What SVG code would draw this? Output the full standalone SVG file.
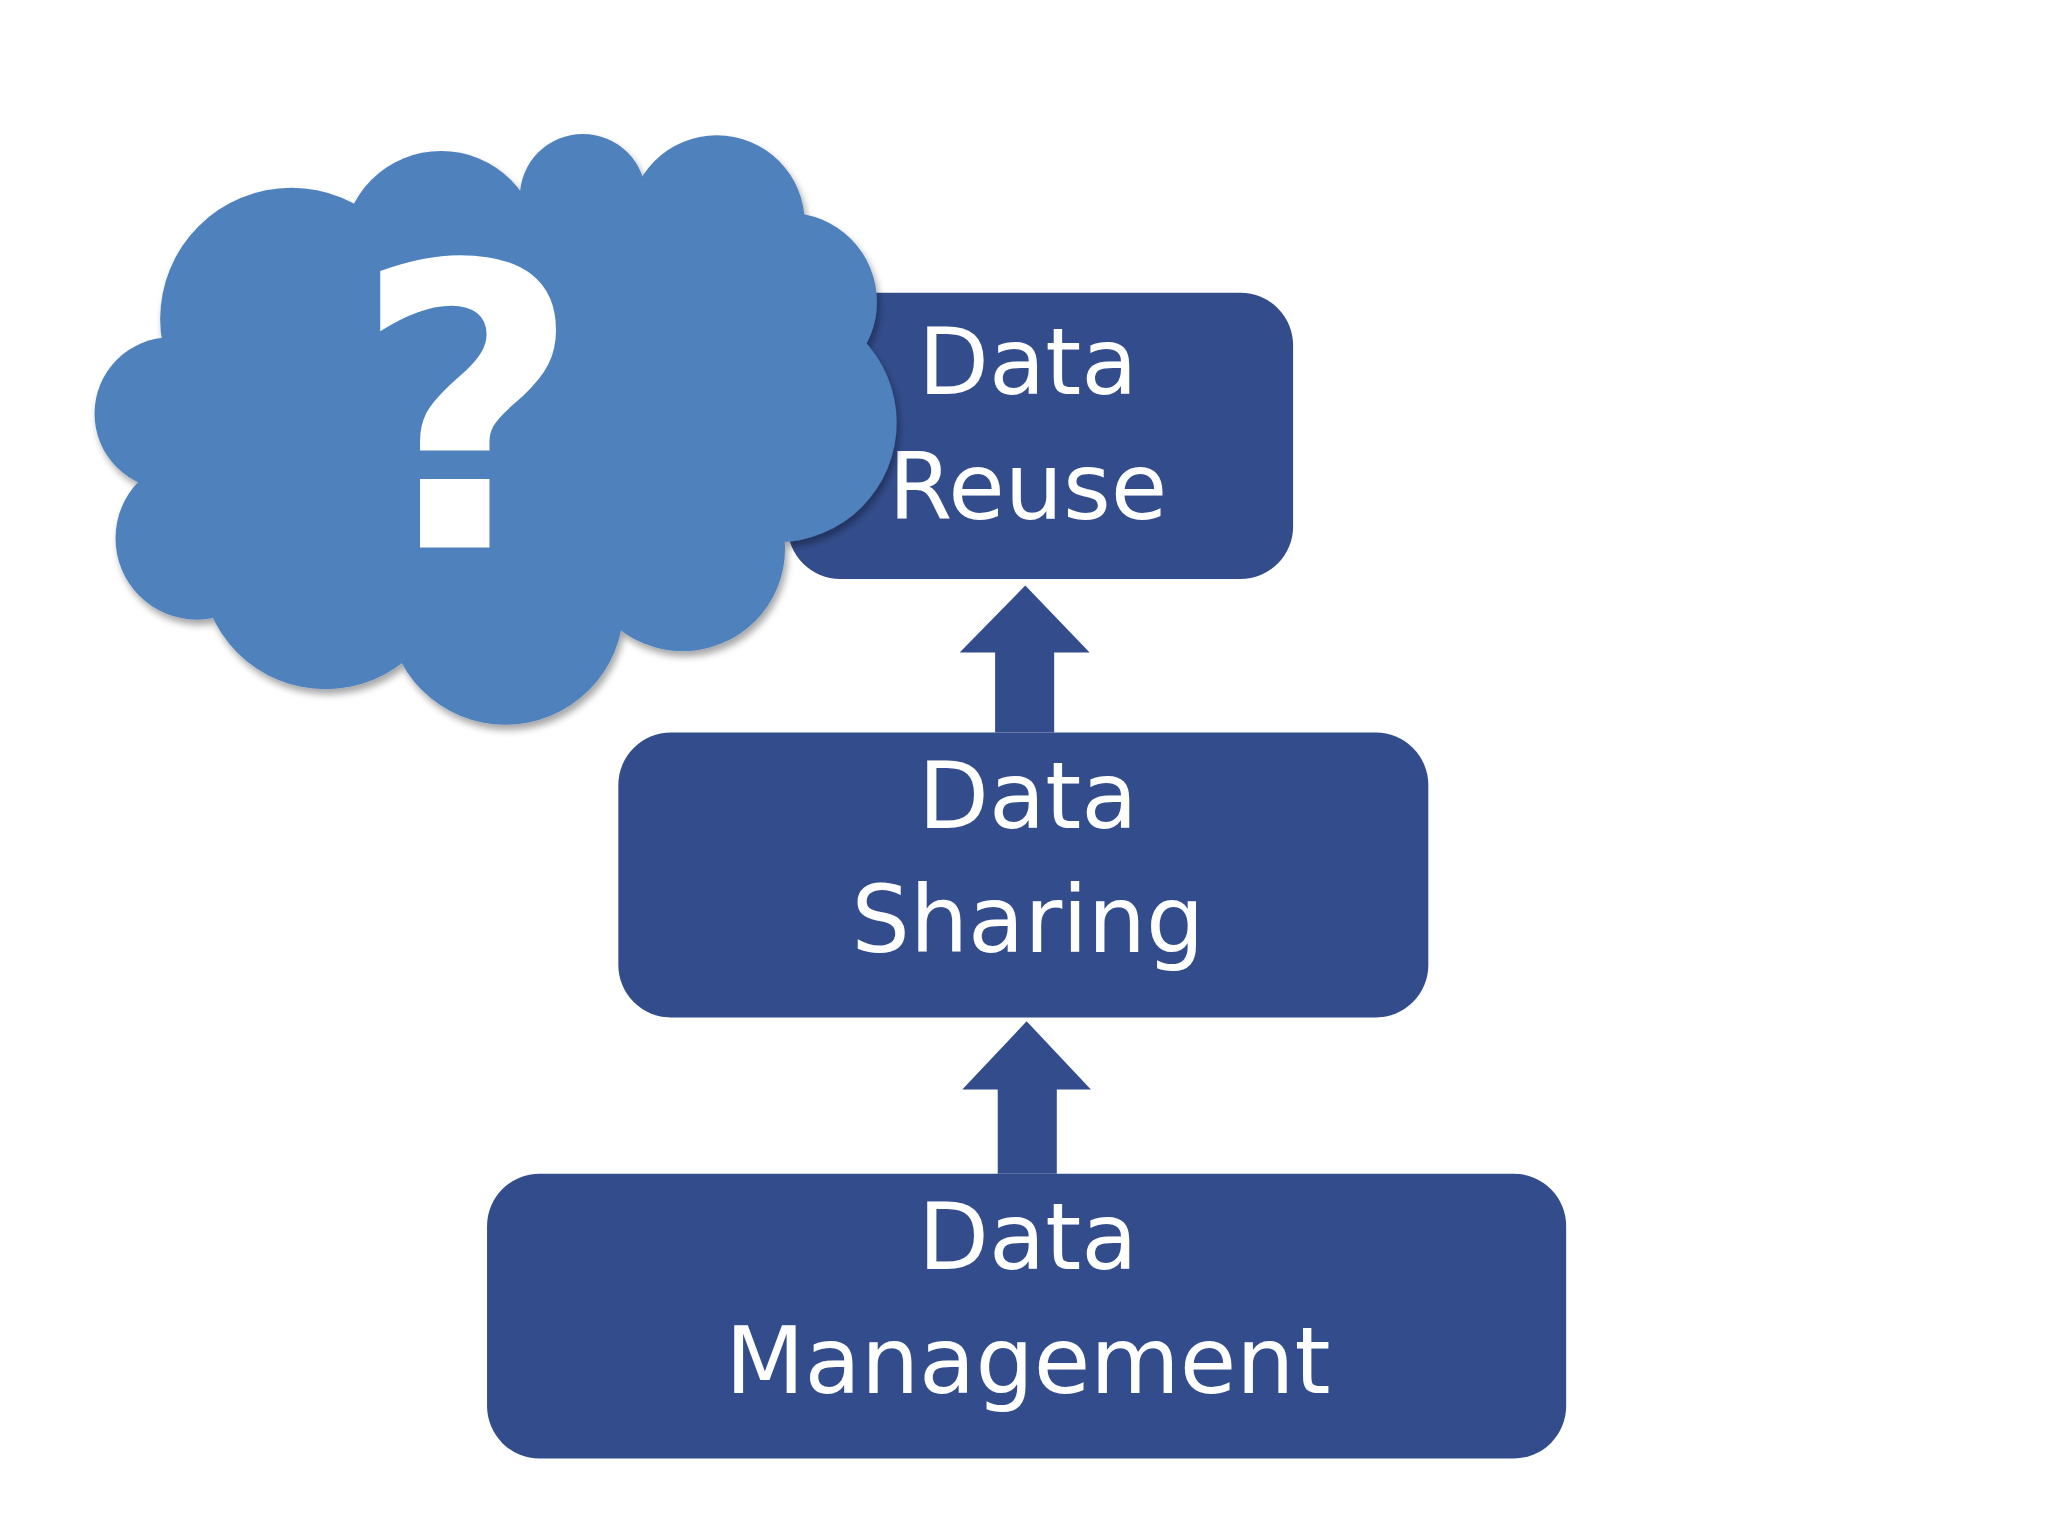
<svg xmlns="http://www.w3.org/2000/svg" width="2048" height="1536" viewBox="0 0 2048 1536">
<defs>
<style>
.box{fill:#334d8c}
.t{fill:#fff;font-family:"DejaVu Sans",sans-serif;font-size:70px;text-anchor:middle}
.c{fill:#4f81bd}
</style>
<filter id="sh" x="-10%" y="-10%" width="130%" height="130%"><feDropShadow dx="2" dy="4" stdDeviation="3" flood-color="#000" flood-opacity="0.35"/></filter>
</defs>
<rect width="2048" height="1536" fill="#fff"/>
<g transform="scale(1.3128)">
<g id="reuse"><rect class="box" x="600" y="223" width="385" height="218" rx="40"/>
<text class="t" x="783" y="300">Data</text><text class="t" x="783" y="395">Reuse</text></g>
<g id="sharing"><rect class="box" x="471" y="558" width="617" height="217" rx="40"/>
<text class="t" x="783" y="631">Data</text><text class="t" x="783" y="725">Sharing</text></g>
<g id="management"><rect class="box" x="371" y="894" width="822" height="217" rx="40"/>
<text class="t" x="783" y="967">Data</text><text class="t" x="783" y="1061">Management</text></g>
<g id="connectors" class="box">
<polygon points="781,446 830,497 803,497 803,558 758,558 758,497 731,497"/>
<polygon points="782,778 831,830 805,830 805,894 760,894 760,830 733,830"/>
</g>
<g id="cloud" filter="url(#sh)">
<g class="c">
<circle cx="222" cy="243" r="100"/><circle cx="336" cy="190" r="75"/><circle cx="444" cy="150" r="48"/>
<circle cx="546" cy="170" r="67"/><circle cx="600" cy="230" r="68"/><circle cx="592" cy="322" r="91"/>
<circle cx="520" cy="418" r="78"/><circle cx="385" cy="462" r="90"/><circle cx="248" cy="430" r="95"/>
<circle cx="150" cy="410" r="62"/><circle cx="130" cy="315" r="58"/><ellipse cx="390" cy="320" rx="230" ry="170"/>
</g>
</g>
<text x="356" y="417" fill="#fff" font-family="DejaVu Sans,sans-serif" font-weight="bold" font-size="300" text-anchor="middle">?</text>
</g>
</svg>
